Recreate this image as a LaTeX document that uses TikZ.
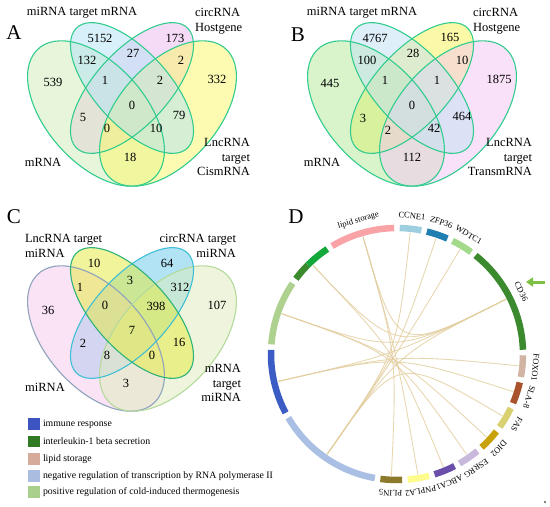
\documentclass[tikz,border=0pt]{standalone}
\usepackage{fontspec}
\setmainfont{Liberation Serif}
\usetikzlibrary{arrows.meta}
\definecolor{vline}{HTML}{33CC8F}
\definecolor{aF1}{HTML}{D1EDB9}
\definecolor{aF2}{HTML}{B1E3F5}
\definecolor{aF3}{HTML}{EFB9F1}
\definecolor{aF4}{HTML}{FBF965}
\definecolor{bF1}{HTML}{B5EB99}
\definecolor{bF2}{HTML}{C1E1F5}
\definecolor{bF3}{HTML}{F9F551}
\definecolor{bF4}{HTML}{F5C7F5}
\definecolor{cF1}{HTML}{F7C9ED}
\definecolor{cF2}{HTML}{E5EB39}
\definecolor{cF3}{HTML}{65C9EB}
\definecolor{cF4}{HTML}{DFEDBB}
\definecolor{cL1}{HTML}{8FA3BD}
\definecolor{cL2}{HTML}{2EB37A}
\definecolor{cL3}{HTML}{3FBFD6}
\definecolor{cL4}{HTML}{B5DA9C}
\definecolor{cLip}{HTML}{F9A3A6}
\definecolor{cIL}{HTML}{3B8A2E}
\definecolor{cILb}{HTML}{14A83A}
\definecolor{cPos}{HTML}{AED18F}
\definecolor{cImm}{HTML}{3B5CC4}
\definecolor{cNeg}{HTML}{A9BFE3}
\definecolor{cPLIN}{HTML}{8C7A2C}
\definecolor{cPNP}{HTML}{FDFC8C}
\definecolor{cABC}{HTML}{6A4FAB}
\definecolor{cESR}{HTML}{C7B8DC}
\definecolor{cDIO}{HTML}{C9A20A}
\definecolor{cFAS}{HTML}{D9D070}
\definecolor{cSLA}{HTML}{A8532C}
\definecolor{cFOX}{HTML}{D2B4A4}
\definecolor{cCD}{HTML}{3B8A2E}
\definecolor{cWDT}{HTML}{A3D98A}
\definecolor{cZFP}{HTML}{1F7FB0}
\definecolor{cCCN}{HTML}{9ECFE0}
\definecolor{chordc}{HTML}{E3CFA0}
\definecolor{arrowc}{HTML}{7DC142}
\definecolor{lgImm}{HTML}{3C55C0}
\definecolor{lgIL}{HTML}{2F7A22}
\definecolor{lgLip}{HTML}{D7AB9B}
\definecolor{lgNeg}{HTML}{AABDE0}
\definecolor{lgPos}{HTML}{A9CF8C}
\begin{document}
\begin{tikzpicture}[x=1pt,y=-1pt,
  every node/.style={inner sep=0pt, outer sep=0pt},
  num/.style={font=\fontsize{12.5}{13}\selectfont},
  lab/.style={font=\fontsize{12.5}{14.5}\selectfont},
  panel/.style={font=\fontsize{21}{21}\selectfont},
  leg/.style={font=\fontsize{9.8}{10}\selectfont, anchor=west},
  legbox/.style={minimum size=11.5pt, draw=none},
  gene/.style={font=\fontsize{8.5}{9}\selectfont},
  vfill/.style={fill opacity=.5},
  vedge/.style={line width=1.1pt},
  chord/.style={draw=chordc, line width=0.85pt, opacity=.85},
  seg/.style={line width=6.5pt}]
\useasboundingbox[fill=white] (0,0) rectangle (550,507);

% ================= Panel A =================
\begin{scope}[shift={(132,88)}, x=1pt, y=1pt, xscale=240, yscale=255]
  \fill[aF3, vfill, rotate around={45:(0,0)}] (0,0) ellipse (0.33 and 0.15);
  \fill[aF1, vfill, rotate around={135:(-0.15,-0.1)}] (-0.15,-0.1) ellipse (0.35 and 0.2);
  \fill[aF4, vfill, rotate around={45:(0.15,-0.1)}] (0.15,-0.1) ellipse (0.35 and 0.2);
  \fill[aF2, vfill, rotate around={135:(0,0)}] (0,0) ellipse (0.33 and 0.15);
  \draw[vline, vedge, rotate around={135:(-0.15,-0.1)}] (-0.15,-0.1) ellipse (0.35 and 0.2);
  \draw[vline, vedge, rotate around={135:(0,0)}] (0,0) ellipse (0.33 and 0.15);
  \draw[vline, vedge, rotate around={45:(0,0)}] (0,0) ellipse (0.33 and 0.15);
  \draw[vline, vedge, rotate around={45:(0.15,-0.1)}] (0.15,-0.1) ellipse (0.35 and 0.2);
\end{scope}
\node[panel] (pA) at (14,33) {A};
\node[lab] (aL2) at (82,13) {miRNA target mRNA};
\node[lab, align=left, anchor=west] (aL3) at (195,21) {circRNA\\Hostgene};
\node[lab] (aL1) at (43,162) {mRNA};
\node[lab, align=right, anchor=east] (aL4) at (250,157) {LncRNA\\target\\CismRNA};
\node[num] (a1) at (100,38) {5152};
\node[num] (a2) at (175,38) {173};
\node[num] (a3) at (87,60) {132};
\node[num] (a4) at (133,53) {27};
\node[num] (a5) at (181,60) {2};
\node[num] (a6) at (53,82) {539};
\node[num] (a7) at (105,80) {1};
\node[num] (a8) at (160,80) {2};
\node[num] (a9) at (217,79) {332};
\node[num] (a10) at (132,105) {0};
\node[num] (a11) at (83,117) {5};
\node[num] (a12) at (179,115) {79};
\node[num] (a13) at (107,128) {0};
\node[num] (a14) at (156,128) {10};
\node[num] (a15) at (130,157) {18};

% ================= Panel B =================
\begin{scope}[shift={(412,88)}, x=1pt, y=1pt, xscale=240, yscale=255]
  \fill[bF3, vfill, rotate around={45:(0,0)}] (0,0) ellipse (0.33 and 0.15);
  \fill[bF1, vfill, rotate around={135:(-0.15,-0.1)}] (-0.15,-0.1) ellipse (0.35 and 0.2);
  \fill[bF4, vfill, rotate around={45:(0.15,-0.1)}] (0.15,-0.1) ellipse (0.35 and 0.2);
  \fill[bF2, vfill, rotate around={135:(0,0)}] (0,0) ellipse (0.33 and 0.15);
  \draw[vline, vedge, rotate around={135:(-0.15,-0.1)}] (-0.15,-0.1) ellipse (0.35 and 0.2);
  \draw[vline, vedge, rotate around={135:(0,0)}] (0,0) ellipse (0.33 and 0.15);
  \draw[vline, vedge, rotate around={45:(0,0)}] (0,0) ellipse (0.33 and 0.15);
  \draw[vline, vedge, rotate around={45:(0.15,-0.1)}] (0.15,-0.1) ellipse (0.35 and 0.2);
\end{scope}
\node[panel] (pB) at (298,35) {B};
\node[lab] (bL2) at (362,13) {miRNA target mRNA};
\node[lab, align=left, anchor=west] (bL3) at (473,21) {circRNA\\Hostgene};
\node[lab] (bL1) at (322,162) {mRNA};
\node[lab, align=right, anchor=east] (bL4) at (532,157) {LncRNA\\target\\TransmRNA};
\node[num] (b1) at (375,38) {4767};
\node[num] (b2) at (450,37) {165};
\node[num] (b3) at (367,60) {100};
\node[num] (b4) at (413,53) {28};
\node[num] (b5) at (462,60) {10};
\node[num] (b6) at (330,83) {445};
\node[num] (b7) at (385,80) {1};
\node[num] (b8) at (437,80) {1};
\node[num] (b9) at (499,79) {1875};
\node[num] (b10) at (412,105) {0};
\node[num] (b11) at (363,118) {3};
\node[num] (b12) at (462,116) {464};
\node[num] (b13) at (388,130) {2};
\node[num] (b14) at (434,128) {42};
\node[num] (b15) at (412,157) {112};

% ================= Panel C =================
\begin{scope}[shift={(132,313)}, x=1pt, y=1pt, xscale=240, yscale=255]
  \fill[cF3, vfill, rotate around={45:(0,0)}] (0,0) ellipse (0.33 and 0.15);
  \fill[cF1, vfill, rotate around={135:(-0.15,-0.1)}] (-0.15,-0.1) ellipse (0.35 and 0.2);
  \fill[cF4, vfill, rotate around={45:(0.15,-0.1)}] (0.15,-0.1) ellipse (0.35 and 0.2);
  \fill[cF2, vfill, rotate around={135:(0,0)}] (0,0) ellipse (0.33 and 0.15);
  \draw[cL1, vedge, rotate around={135:(-0.15,-0.1)}] (-0.15,-0.1) ellipse (0.35 and 0.2);
  \draw[cL4, vedge, rotate around={45:(0.15,-0.1)}] (0.15,-0.1) ellipse (0.35 and 0.2);
  \draw[cL3, vedge, rotate around={45:(0,0)}] (0,0) ellipse (0.33 and 0.15);
  \draw[cL2, vedge, rotate around={135:(0,0)}] (0,0) ellipse (0.33 and 0.15);
\end{scope}
\node[panel] (pC) at (14,217) {C};
\node[lab, align=left, anchor=west] (cL2t) at (25,246) {LncRNA target\\miRNA};
\node[lab, align=right, anchor=east] (cL3t) at (236,246) {circRNA target\\miRNA};
\node[lab] (cL1t) at (45,387) {miRNA};
\node[lab, align=right, anchor=east] (cL4t) at (241,383) {mRNA\\target\\miRNA};
\node[num] (c1) at (94,263) {10};
\node[num] (c2) at (167,263) {64};
\node[num] (c3) at (80,287) {1};
\node[num] (c4) at (130,280) {3};
\node[num] (c5) at (180,287) {312};
\node[num] (c6) at (48,310) {36};
\node[num] (c7) at (105,305) {0};
\node[num] (c8) at (156,306) {398};
\node[num] (c9) at (217,305) {107};
\node[num] (c10) at (132,330) {7};
\node[num] (c11) at (83,343) {2};
\node[num] (c12) at (179,342) {16};
\node[num] (c13) at (107,355) {8};
\node[num] (c14) at (152,355) {0};
\node[num] (c15) at (126,383) {3};

% legend
\node[legbox, fill=lgImm] (lb1) at (34,424) {};
\node[legbox, fill=lgIL] (lb2) at (34,441.5) {};
\node[legbox, fill=lgLip] (lb3) at (34,459) {};
\node[legbox, fill=lgNeg] (lb4) at (34,476) {};
\node[legbox, fill=lgPos] (lb5) at (34,492) {};
\node[leg] (lt1) at (43,424) {immune response};
\node[leg] (lt2) at (43,441.5) {interleukin-1 beta secretion};
\node[leg] (lt3) at (43,459) {lipid storage};
\node[leg] (lt4) at (43,476) {negative regulation of transcription by RNA polymerase II};
\node[leg] (lt5) at (43,492) {positive regulation of cold-induced thermogenesis};

% ================= Panel D =================
\node[panel] (pD) at (296,217) {D};
\begin{scope}[shift={(397,354)}, x=1pt, y=1pt]
  \coordinate (O) at (0,0);
  \coordinate (lip) at (106.15:122);
  \coordinate (ccne) at (83.81:122);
  \coordinate (zfp) at (71.37:122);
  \coordinate (wdt) at (58.93:122);
  \coordinate (cd) at (26.69:122);
  \coordinate (fox) at (-5.55:122);
  \coordinate (sla) at (-17.99:122);
  \coordinate (fas) at (-30.43:122);
  \coordinate (dio) at (-42.87:122);
  \coordinate (esr) at (-55.31:122);
  \coordinate (abc) at (-67.75:122);
  \coordinate (pnp) at (-80.19:122);
  \coordinate (plin) at (-92.63:122);
  \coordinate (neg) at (235.13:122);
  \coordinate (imm) at (192.99:122);
  \coordinate (pos) at (160.75:122);
  \coordinate (il) at (133.46:122);
  % chords
  \foreach \a/\b in {cd/lip, cd/il, cd/pos, cd/imm, cd/neg, lip/plin, lip/pnp, il/abc,
                     pos/dio, pos/esr, imm/sla, imm/fox, neg/fas, neg/ccne, neg/zfp, neg/wdt}
    \draw[chord] (\a) .. controls (O) .. (\b);
  % sectors
  \draw[seg, cLip] (121:126) arc[start angle=121, end angle=91.3, radius=126];
  \draw[seg, cCCN] (88.76:126) arc[start angle=88.76, end angle=78.86, radius=126];
  \draw[seg, cZFP] (76.32:126) arc[start angle=76.32, end angle=66.42, radius=126];
  \draw[seg, cWDT] (63.88:126) arc[start angle=63.88, end angle=53.98, radius=126];
  \draw[seg, cCD] (51.44:126) arc[start angle=51.44, end angle=1.94, radius=126];
  \draw[seg, cFOX] (-0.6:126) arc[start angle=-0.6, end angle=-10.5, radius=126];
  \draw[seg, cSLA] (-13.04:126) arc[start angle=-13.04, end angle=-22.94, radius=126];
  \draw[seg, cFAS] (-25.48:126) arc[start angle=-25.48, end angle=-35.38, radius=126];
  \draw[seg, cDIO] (-37.92:126) arc[start angle=-37.92, end angle=-47.82, radius=126];
  \draw[seg, cESR] (-50.36:126) arc[start angle=-50.36, end angle=-60.26, radius=126];
  \draw[seg, cABC] (-62.8:126) arc[start angle=-62.8, end angle=-72.7, radius=126];
  \draw[seg, cPNP] (-75.24:126) arc[start angle=-75.24, end angle=-85.14, radius=126];
  \draw[seg, cPLIN] (-87.68:126) arc[start angle=-87.68, end angle=-97.58, radius=126];
  \draw[seg, cNeg] (-100.12:126) arc[start angle=-100.12, end angle=-149.62, radius=126];
  \draw[seg, cImm] (-152.16:126) arc[start angle=-152.16, end angle=-181.86, radius=126];
  \draw[seg, cPos] (-184.4:126) arc[start angle=-184.4, end angle=-214.1, radius=126];
  \draw[seg, cIL] (-225:126) arc[start angle=-225, end angle=-216.64, radius=126];
  \draw[seg, cILb] (-225:126) arc[start angle=-225, end angle=-236.44, radius=126];
  % labels
  \node[gene, rotate=16.15] (tlip) at (106.15:139) {lipid storage};
  \node[gene, rotate=-6.19] (tccne) at (83.81:139) {CCNE1};
  \node[gene, rotate=-18.63] (tzfp) at (71.37:139) {ZFP36};
  \node[gene, rotate=-31.07] (twdt) at (58.93:139) {WDTC1};
  \node[gene, rotate=-63.31] (tcd) at (26.69:139) {CD36};
  \node[gene, rotate=-95.55] (tfox) at (-5.55:139) {FOXO1};
  \node[gene, rotate=-107.99] (tsla) at (-17.99:139) {SLA-8};
  \node[gene, rotate=-120.43] (tfas) at (-30.43:139) {FAS};
  \node[gene, rotate=-132.87] (tdio) at (-42.87:139) {DIO2};
  \node[gene, rotate=-145.31] (tesr) at (-55.31:139) {ESRRG};
  \node[gene, rotate=-157.75] (tabc) at (-67.75:139) {ABCA1};
  \node[gene, rotate=-170.19] (tpnp) at (-80.19:139) {PNPLA2};
  \node[gene, rotate=-182.63] (tplin) at (-92.63:139) {PLIN5};
\end{scope}
\coordinate (arrS) at (545,282);
\coordinate (arrE) at (526,282);
\draw[arrowc, line width=3pt, -{Triangle[length=7pt,width=9pt]}] (arrS) -- (arrE);
\fill (545,502) circle (0.8);
\end{tikzpicture}
\end{document}
